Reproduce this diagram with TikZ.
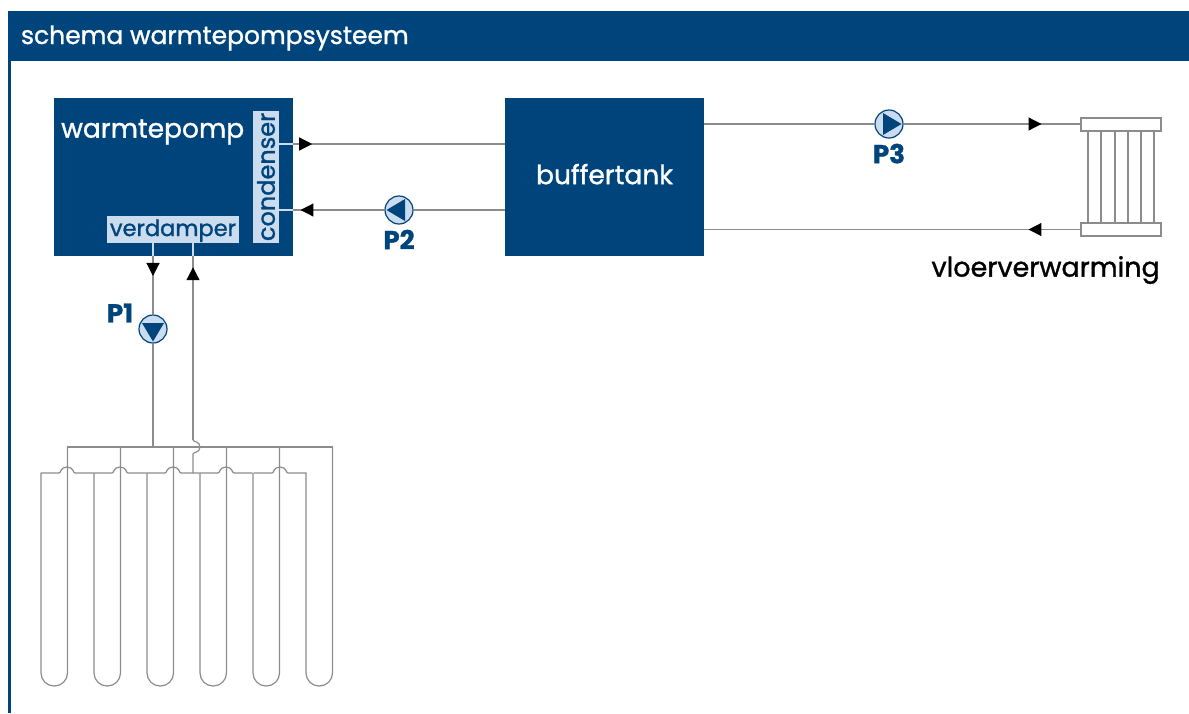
\documentclass[tikz,border=0pt]{standalone}
\usepackage{fontspec}
\setmainfont{Poppins}[FakeBold=1.2]
\usepackage{tikz}
\usetikzlibrary
  {
    arrows.meta,          % triangle tips
    calc,
    decorations.markings, % tips halfway along a pipe
    positioning,          % place nodes relative to other nodes
  }
\definecolor{schemablue}{HTML}{00447C}
\definecolor{paleblue}{HTML}{CBDCEF}
\definecolor{pipegrey}{HTML}{8C8C8C}

\begin{document}
\begin{tikzpicture}
    [
      x=1pt,
      y=-1pt,
      node distance=5pt,
      unit/.style=
        {
          rectangle,
          inner sep=0pt,
          fill=schemablue,
          text=white,
          font=\fontsize{26.5}{26.5}\selectfont,
        },
      part/.style=
        {
          rectangle,
          inner sep=0pt,
          fill=paleblue,
          text=schemablue,
          font=\fontsize{22.5}{22.5}\selectfont,
        },
      pipe/.style=
        {
          draw=pipegrey,
          line width=1.2pt,
        },
      stub/.style=
        {
          draw=paleblue,
          line width=1.2pt,
        },
      flowmark/.style=
        {
          postaction={decorate},
          decoration=
            {
              markings,
              mark=at position #1 with {\arrow[black]{Triangle[length=13pt,width=13pt]}},
            },
        },
      pump/.style=
        {
          circle,
          inner sep=0pt,
          minimum size=28pt,
          draw=schemablue,
          line width=1.2pt,
          fill=paleblue,
        },
      pumphead/.pic=
        {
          \fill [schemablue] (12.5,0) -- (-6,11) -- (-6,-11) -- cycle;
        },
      pumplabel/.style=
        {
          inner sep=0pt,
          text=schemablue,
          font=\fontsize{26}{26}\selectfont\bfseries,
        },
      header/.style=
        {
          rectangle,
          inner sep=0pt,
          minimum width=80pt,
          minimum height=13pt,
          pipe,
          fill=white,
        },
    ]
    \useasboundingbox (0,0) rectangle (1189,713);

    % frame
    \node (titlebar) [unit, minimum width=1181pt, minimum height=50pt] at (598.5,36) {};
    \node (title) [anchor=west, inner sep=0pt, text=white, font=\fontsize{25}{25}\selectfont]
      at ([xshift=13pt,yshift=-2pt]titlebar.west) {schema warmtepompsysteem};
    \draw [schemablue, line width=3pt] ([xshift=1.5pt]titlebar.south west) -- ++(0,652);

    % units
    \node (warmtepomp) [unit, minimum width=239pt, minimum height=158pt] at (173.5,177) {};
    \node (wplabel) [unit, anchor=west] at (61,132) {warmtepomp};
    \node (condenser) [part, rotate=90, minimum width=132pt, minimum height=26pt,
      font=\fontsize{24}{24}\selectfont] at (266,177) {condenser};
    \node (verdamper) [part, text height=19pt, minimum width=132pt, minimum height=27pt] at (173,229.5) {verdamper};
    \node (buffertank) [unit, text depth=6pt, minimum width=199pt, minimum height=158pt] at (604.5,177) {buffertank};

    % pumps
    \node (pumpone) [pump] at (153,329) {};
    \node (pumptwo) [pump] at (399,210) {};
    \node (pumpthree) [pump] at (889,124) {};
    \pic [rotate=-90] at (pumpone) {pumphead};
    \pic [rotate=180] at (pumptwo) {pumphead};
    \pic at (pumpthree) {pumphead};
    \node (labelone) [pumplabel] at (120,313) {P1};
    \node (labeltwo) [pumplabel, below=5pt of pumptwo] {P2};
    \node (labelthree) [pumplabel, below=5pt of pumpthree] {P3};

    % floor heating
    \node (radtop) [header] at (1121,124.5) {};
    \node (radbottom) [header] at (1121,229.5) {};
    \node (radlabel) [anchor=east, inner sep=0pt, font=\fontsize{27}{27}\selectfont]
      at (1160,270) {vloerverwarming};
    \foreach \x in {1088,1101,1115,1128,1141,1154}
      \draw [pipe] (\x,0 |- radtop.south) -- (\x,0 |- radbottom.north);

    % pipes
    \coordinate (outcond) at (condenser.east |- 0,144);
    \coordinate (incond) at (condenser.east |- pumptwo);
    \draw [stub] (condenser.south |- outcond) -- (warmtepomp.east |- outcond);
    \draw [stub] (condenser.south |- incond) -- (warmtepomp.east |- incond);
    \draw [pipe, flowmark=.09] (warmtepomp.east |- 0,144) -- (buffertank.west |- 0,144);
    \draw [pipe, flowmark=.92] (pumptwo.west) -- (warmtepomp.east |- pumptwo);
    \draw [pipe] (buffertank.west |- pumptwo) -- (pumptwo.east);
    \draw [pipe] (buffertank.east |- pumpthree) -- (pumpthree.west);
    \draw [pipe, flowmark=.78] (pumpthree.east) -- (radtop.west |- pumpthree);
    \draw [pipe, flowmark=.138] (radbottom.west) -- (buffertank.east |- radbottom);

    \coordinate (collector) at (153,447);
    \coordinate (returnfoot) at (193,473);
    \coordinate (returnhop) at (193,440);
    \draw [stub] (collector |- verdamper.south) -- (collector |- warmtepomp.south);
    \draw [stub] (returnfoot |- verdamper.south) -- (returnfoot |- warmtepomp.south);
    \draw [pipe, flowmark=.34] (collector |- warmtepomp.south) -- (pumpone.north);
    \draw [pipe] (pumpone.south) -- (collector);
    \draw [pipe, flowmark=.94] (returnhop) -- (returnfoot |- warmtepomp.south);
    \draw [pipe] (returnfoot) -- (193,454)
      .. controls (193,452) and (200,453) .. (200,447)
      .. controls (200,441) and (193,442) .. (returnhop);

    % ground loops
    \draw [pipe] (67,447) -- (333,447);
    \foreach \x in {41,94,147,200,253,306}
      \draw [pipe, rounded corners=13pt] (\x,473) -- (\x,686) -- (\x+26.5,686) -- (\x+26.5,447);
    \foreach \x in {67,120,173,226,280}
      \draw [pipe] (\x-26.5,473) -- (\x-8,473)
        .. controls (\x-6,473) and (\x-6.5,467) .. (\x,467)
        .. controls (\x+6.5,467) and (\x+6,473) .. (\x+8,473) -- (\x+26.5,473);
  \end{tikzpicture}
\end{document}
